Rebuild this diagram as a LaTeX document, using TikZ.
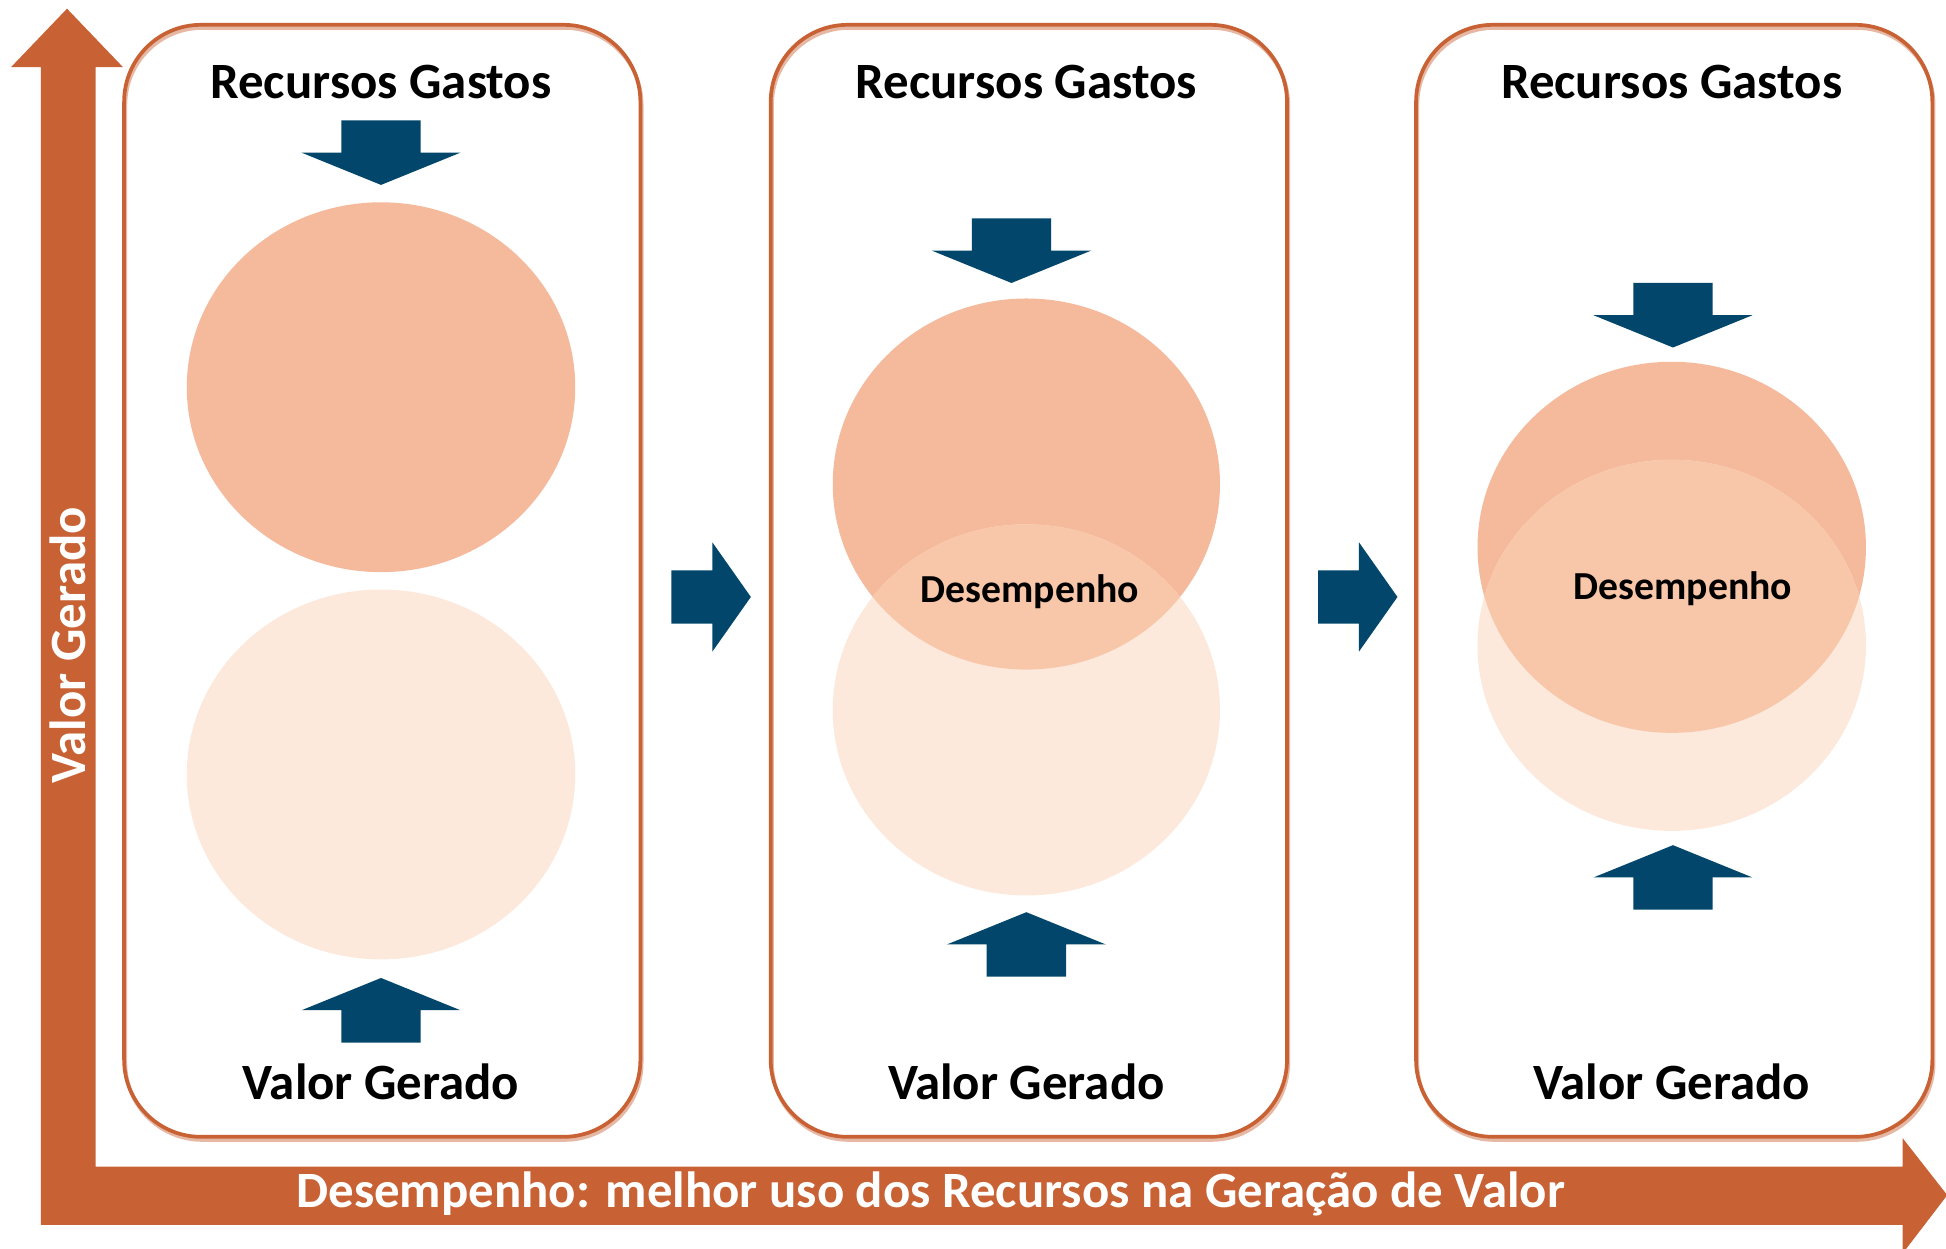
\documentclass[tikz,border=0pt]{standalone}
\usepackage{fontspec}
\setmainfont{Carlito}
\definecolor{axisor}{RGB}{200,97,52}
\definecolor{navyb}{RGB}{2,71,107}
\definecolor{salmon}{RGB}{245,185,156}
\definecolor{peach}{RGB}{252,233,219}
\definecolor{overl}{RGB}{248,198,169}
\tikzset{
  panelbox/.style={draw=axisor, line width=3pt, rounded corners=62pt},
  panelshadow/.style={draw=axisor!45, line width=3pt, rounded corners=62pt},
  bigtxt/.style={font=\bfseries\fontsize{41}{49}\selectfont, inner sep=0pt},
  midtxt/.style={font=\bfseries\fontsize{32}{38}\selectfont, inner sep=0pt},
  downarr/.pic={\fill[navyb] (-32,0) -- (32,0) -- (32,26) -- (64,26) -- (0,52) -- (-64,26) -- (-32,26) -- cycle;},
  uparr/.pic={\fill[navyb] (-32,0) -- (32,0) -- (32,-26) -- (64,-26) -- (0,-52) -- (-64,-26) -- (-32,-26) -- cycle;},
  rightarr/.pic={\fill[navyb] (0,-21.5) -- (33,-21.5) -- (33,-44) -- (64,0) -- (33,44) -- (33,21.5) -- (0,21.5) -- cycle;}
}
\begin{document}
\begin{tikzpicture}[x=1pt,y=-1pt]
\useasboundingbox (0,0) rectangle (1568,1006);
\fill[white] (0,0) rectangle (1568,1006);

% axes (L-shaped block arrow)
\fill[axisor] (33,987) -- (33,54) -- (9,54) -- (54,7) -- (99,54) -- (77,54) -- (77,940)
  -- (1533,940) -- (1533,917) -- (1569,963) -- (1533,1010) -- (1533,987) -- cycle;
\node[bigtxt, text=white, rotate=90] (yaxis) at (55,520) {Valor Gerado};
\node[bigtxt, text=white] (xaxis) at (750,962) {Desempenho: melhor uso dos Recursos na Geração de Valor};

% panel boxes
\foreach \x in {100,621,1141}{
  \draw[panelshadow] (\x+1,22.5) rectangle (\x+417,918.5);
  \draw[panelbox] (\x,20) rectangle (\x+416,916);
}

% panel 1
\fill[salmon] (307,312) ellipse [x radius=156.5, y radius=149];
\fill[peach] (307,624) ellipse [x radius=156.5, y radius=149];
\pic at (307,97) {downarr};
\pic at (307,840) {uparr};

% panel 2
\fill[salmon] (827,390) ellipse [x radius=156, y radius=149.5];
\fill[peach] (827,572) ellipse [x radius=156, y radius=149.5];
\begin{scope}
  \clip (827,390) ellipse [x radius=156, y radius=149.5];
  \fill[overl] (827,572) ellipse [x radius=156, y radius=149.5];
\end{scope}
\pic at (815,176) {downarr};
\pic at (827,787) {uparr};

% panel 3
\fill[salmon] (1347,441) ellipse [x radius=156.5, y radius=149.5];
\fill[peach] (1347,520) ellipse [x radius=156.5, y radius=149.5];
\begin{scope}
  \clip (1347,441) ellipse [x radius=156.5, y radius=149.5];
  \fill[overl] (1347,520) ellipse [x radius=156.5, y radius=149.5];
\end{scope}
\pic at (1348,228) {downarr};
\pic at (1348,733) {uparr};

% arrows between panels
\pic at (541,481) {rightarr};
\pic at (1062,481) {rightarr};

% texts
\node[bigtxt] (rg1) at (307,66) {Recursos Gastos};
\node[bigtxt] (rg2) at (827,66) {Recursos Gastos};
\node[bigtxt] (rg3) at (1347,66) {Recursos Gastos};
\node[bigtxt] (vg1) at (307,872) {Valor Gerado};
\node[bigtxt] (vg2) at (827,872) {Valor Gerado};
\node[bigtxt] (vg3) at (1347,872) {Valor Gerado};
\node[midtxt] (d2) at (830,477) {Desempenho};
\node[midtxt] (d3) at (1356,474) {Desempenho};
\end{tikzpicture}
\end{document}
